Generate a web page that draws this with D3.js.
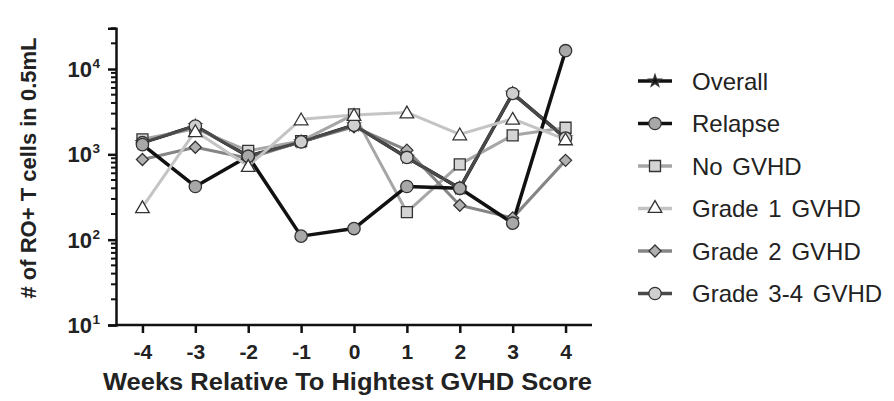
<!DOCTYPE html>
<html>
<head>
<meta charset="utf-8">
<script src="https://cdn.jsdelivr.net/npm/d3@7"></script>
<style>
  body { margin: 0; background: #fff; }
  text { font-family: "Liberation Sans", Arial, sans-serif; }
</style>
</head>
<body>
<div id="chart"></div>
<script>
// weeks relative to highest GVHD score
var weeks = [-4, -3, -2, -1, 0, 1, 2, 3, 4];

var overall   = [1370, 2150, 950, 1400, 2200, 920, 400, 5170, 1550];
var relapse   = [1300, 420, 950, 110, 135, 420, 400, 156, 16400];
var noGvhd    = [1500, 2000, 1100, 1430, 2940, 210, 764, 1670, 2050];
var grade1    = [240, 1870, 730, 2570, 2900, 3100, 1714, 2610, 1500];
var grade2    = [870, 1210, 900, 1400, 2100, 1120, 253, 180, 850];
var grade34   = [1370, 2150, 950, 1400, 2200, 920, 400, 5170, 1550];

var seriesNames = ["Overall", "Relapse", "No GVHD", "Grade 1 GVHD", "Grade 2 GVHD", "Grade 3-4 GVHD"];
var yTickExps = [1, 2, 3, 4];

var svgWidth = 894, svgHeight = 401;

var svg = d3.select("#chart").append("svg")
    .attr("width", svgWidth)
    .attr("height", svgHeight);

var xScale = d3.scaleLinear().domain([-4.5, 4.5]).range([116, 592]);
var yScale = d3.scaleLog().domain([10, 30000]).range([325, 28.3]);

// series styles
var styles = {
  "Overall":        { data: overall, line: "#111", width: 3.5, shape: "star",     fill: "#111" },
  "Relapse":        { data: relapse, line: "#111", width: 3.5, shape: "circle",   fill: "#a8a8a8" },
  "No GVHD":        { data: noGvhd,  line: "#a6a6a6", width: 3, shape: "square",  fill: "#d4d4d4" },
  "Grade 1 GVHD":   { data: grade1,  line: "#c4c4c4", width: 3, shape: "triangle", fill: "#fff" },
  "Grade 2 GVHD":   { data: grade2,  line: "#858585", width: 3, shape: "diamond", fill: "#b0b0b0" },
  "Grade 3-4 GVHD": { data: grade34, line: "#4a4a4a", width: 3, shape: "circle",  fill: "#cfcfcf" }
};

function markerPath(shape) {
  if (shape === "circle") return d3.symbol().type(d3.symbolCircle).size(120)();
  if (shape === "square") return d3.symbol().type(d3.symbolSquare).size(121)();
  if (shape === "triangle") return d3.symbol().type(d3.symbolTriangle).size(80)();
  if (shape === "star") return d3.symbol().type(d3.symbolStar).size(45)();
  if (shape === "diamond") return "M0,-6L6,0L0,6L-6,0Z";
}

// axes
var yAxis = d3.axisLeft(yScale)
    .tickValues(yTickExps.map(function(e) { return Math.pow(10, e); }))
    .tickSize(8)
    .tickFormat("");
var gy = svg.append("g").attr("transform", "translate(116,0)").call(yAxis);
gy.select(".domain").attr("stroke-width", 2.5).attr("stroke", "#111");
gy.selectAll(".tick line").attr("stroke-width", 2.5).attr("stroke", "#111");

// minor ticks on log axis
var minors = [];
for (var e = 1; e <= 4; e++) {
  for (var m = 2; m <= 9; m++) {
    var v = m * Math.pow(10, e);
    if (v <= 30000) minors.push(v);
  }
}
svg.append("g").selectAll("line").data(minors).enter().append("line")
  .attr("x1", 111).attr("x2", 116)
  .attr("y1", function(d) { return yScale(d); })
  .attr("y2", function(d) { return yScale(d); })
  .attr("stroke", "#111").attr("stroke-width", 2);

// y tick labels 10^n
svg.append("g").selectAll("text").data(yTickExps).enter().append("text")
  .attr("x", 92)
  .attr("y", function(d) { return yScale(Math.pow(10, d)) + 8; })
  .attr("text-anchor", "end")
  .attr("font-size", "22px")
  .attr("font-weight", "bold")
  .attr("fill", "#222")
  .text("10");
svg.append("g").selectAll("text").data(yTickExps).enter().append("text")
  .attr("x", 92.5)
  .attr("y", function(d) { return yScale(Math.pow(10, d)) - 1; })
  .attr("font-size", "13.5px")
  .attr("font-weight", "bold")
  .attr("fill", "#222")
  .text(function(d) { return d; });

var xAxis = d3.axisBottom(xScale).tickValues(weeks).tickSize(8).tickFormat(d3.format("d"));
var gx = svg.append("g").attr("transform", "translate(0,325)").call(xAxis);
gx.select(".domain").attr("stroke-width", 2.5).attr("stroke", "#111")
  .attr("d", "M116,0H592");
gx.selectAll(".tick line").attr("stroke-width", 2.5).attr("stroke", "#111");
gx.selectAll(".tick text")
  .attr("font-size", "21px").attr("font-weight", "bold").attr("fill", "#222")
  .attr("y", 34).attr("dy", 0)
  .text(function(d) { return d < 0 ? "-" + Math.abs(d) : d; });

// axis titles
svg.append("text")
  .attr("x", 103).attr("y", 390)
  .attr("textLength", 489)
  .attr("lengthAdjust", "spacingAndGlyphs")
  .attr("font-size", "23px").attr("font-weight", "bold").attr("fill", "#222")
  .text("Weeks Relative To Hightest GVHD Score");

svg.append("g")
  .attr("transform", "translate(36,168)")
  .append("text")
  .attr("transform", "rotate(-90)")
  .attr("text-anchor", "middle")
  .attr("font-size", "22px").attr("font-weight", "bold").attr("fill", "#222")
  .text("# of RO+ T cells in 0.5mL");

// lines and markers
var drawOrder = ["Overall", "No GVHD", "Grade 2 GVHD", "Grade 3-4 GVHD", "Relapse", "Grade 1 GVHD"];
var line = d3.line()
  .x(function(d, i) { return xScale(weeks[i]); })
  .y(function(d) { return yScale(d); });

drawOrder.forEach(function(name) {
  var s = styles[name];
  svg.append("path")
    .attr("d", line(s.data))
    .attr("fill", "none")
    .attr("stroke", s.line)
    .attr("stroke-width", s.width)
    .attr("stroke-linejoin", "round");
});
drawOrder.forEach(function(name) {
  var s = styles[name];
  svg.append("g").selectAll("path").data(s.data).enter().append("path")
    .attr("d", markerPath(s.shape))
    .attr("transform", function(d, i) {
      var dy = s.shape === "triangle" ? 1.5 : 0;
      return "translate(" + xScale(weeks[i]) + "," + (yScale(d) + dy) + ")";
    })
    .attr("fill", s.fill)
    .attr("stroke", "#333")
    .attr("stroke-width", 1.3);
});

// legend
var legend = svg.append("g").selectAll("g").data(seriesNames).enter().append("g")
  .attr("transform", function(d, i) { return "translate(638," + (81 + i * 42.5) + ")"; });
legend.append("line")
  .attr("x1", 0).attr("x2", 34).attr("y1", 0).attr("y2", 0)
  .attr("stroke", function(d) { return styles[d].line; })
  .attr("stroke-width", 3.5);
legend.append("path")
  .attr("d", function(d) { return markerPath(styles[d].shape); })
  .attr("transform", "translate(17,0)")
  .attr("fill", function(d) { return styles[d].fill; })
  .attr("stroke", "#333")
  .attr("stroke-width", 1.3);
legend.append("text")
  .attr("x", 54).attr("y", 8.5)
  .attr("font-size", "24px").attr("fill", "#222")
  .attr("word-spacing", "3px")
  .text(function(d) { return d; });
</script>
</body>
</html>
